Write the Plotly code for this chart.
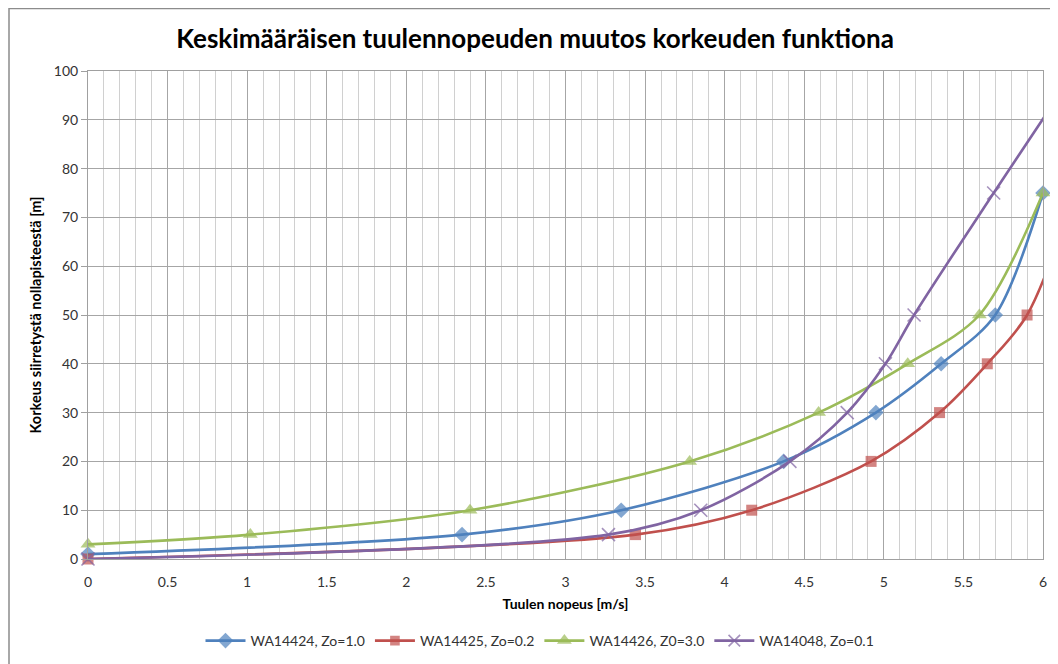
import plotly.graph_objects as go

# Data (x = wind speed m/s, y = height m)
blue_x = [0.0, 2.35, 3.35, 4.37, 4.95, 5.36, 5.70, 6.00]
blue_y = [1, 5, 10, 20, 30, 40, 50, 75]

red_x = [0.0, 3.44, 4.17, 4.92, 5.35, 5.65, 5.90, 6.20]
red_y = [0, 5, 10, 20, 30, 40, 50, 75]

green_x = [0.0, 1.02, 2.40, 3.78, 4.59, 5.15, 5.60, 6.00]
green_y = [3, 5, 10, 20, 30, 40, 50, 75]

purple_x = [0.0, 3.27, 3.85, 4.41, 4.77, 5.01, 5.19, 5.69, 6.20]
purple_y = [0, 5, 10, 20, 30, 40, 50, 75, 100]

names = ["WA14424, Zo=1.0", "WA14425, Zo=0.2", "WA14426, Z0=3.0", "WA14048, Zo=0.1"]
x_ticks = [0, 0.5, 1, 1.5, 2, 2.5, 3, 3.5, 4, 4.5, 5, 5.5, 6]
x_tick_text = ["0", "0.5", "1", "1.5", "2", "2.5", "3", "3.5", "4", "4.5", "5", "5.5", "6"]
y_ticks = [0, 10, 20, 30, 40, 50, 60, 70, 80, 90, 100]

X_MAX = 6
FONT = "Lato, Calibri, Carlito, sans-serif"

# page body has an 8px margin; figure is sized so the plot area lands where the reference has it
W, H = 1050, 656
L, R, T, B = 80, 15, 63, 105
PW, PH = W - L - R, H - T - B

series = [
    (blue_x, blue_y, names[0], "#4F81BD", "diamond", 12, 0),
    (red_x, red_y, names[1], "#C0504D", "square", 11, 0),
    (green_x, green_y, names[2], "#9BBB59", "triangle-up", 13, 0),
    (purple_x, purple_y, names[3], "#8064A2", "x-thin", 13, 1.6),
]

fig = go.Figure()
for xs, ys, name, color, symbol, size, lw in series:
    sizes = [size if x <= X_MAX + 1e-9 else 0 for x in xs]
    fig.add_trace(go.Scatter(
        x=xs, y=ys, name=name, mode="lines+markers",
        line=dict(color=color, width=2.6, shape="spline", smoothing=0.9),
        marker=dict(symbol=symbol, size=sizes, color=color,
                    line=dict(color=color, width=lw)),
        cliponaxis=False,
    ))

fig.update_layout(
    width=W, height=H,
    paper_bgcolor="white", plot_bgcolor="white",
    margin=dict(l=L, r=R, t=T, b=B, autoexpand=False),
    font=dict(family=FONT, size=14, color="#333333"),
    title=dict(text="<b>Keskimääräisen tuulennopeuden muutos korkeuden funktiona</b>",
               x=(535 - 8) / W, xanchor="center", y=1 - (39 - 8) / H, yanchor="middle",
               font=dict(family=FONT, size=26, color="#000000")),
    legend=dict(orientation="h", x=(540 - 8) / W, xanchor="center", xref="container",
                y=1 - (641 - 8) / H, yanchor="middle", yref="container",
                font=dict(family=FONT, size=14, color="#333333"),
                itemwidth=40, tracegroupgap=0),
    showlegend=True,
)

fig.update_xaxes(
    range=[0, X_MAX], tickvals=x_ticks, ticktext=x_tick_text, automargin=False,
    showgrid=True, gridcolor="#a6a6a6", gridwidth=1,
    minor=dict(dtick=0.1, showgrid=True, gridcolor="#d0d0d0", gridwidth=1),
    showline=True, linecolor="#a0a0a0", linewidth=1, mirror=True,
    ticks="", ticklabelstandoff=10, zeroline=False,
    title=dict(text="<b>Tuulen nopeus [m/s]</b>", font=dict(family=FONT, size=14, color="#000000"),
               standoff=10),
)
fig.update_yaxes(
    range=[0, 100], tickvals=y_ticks, automargin=False,
    showgrid=True, gridcolor="#a6a6a6", gridwidth=1,
    showline=True, linecolor="#a0a0a0", linewidth=1, mirror=True,
    ticks="outside", ticklen=6, tickcolor="#a0a0a0", zeroline=False,
    title=dict(text="<b>Korkeus siirretystä nollapisteestä [m]</b>",
               font=dict(family=FONT, size=14.5, color="#000000"), standoff=8),
)

# outer chart border (extends past right/bottom edges as in reference)
fig.add_shape(type="rect", xref="paper", yref="paper",
              x0=(1 - L) / PW, x1=(W + 20 - L) / PW,
              y0=-(B + 20) / PH, y1=(PH + T - 0.5) / PH,
              line=dict(color="#8c8c8c", width=1.5), fillcolor="rgba(0,0,0,0)", layer="below")

fig.write_html("out.html")
